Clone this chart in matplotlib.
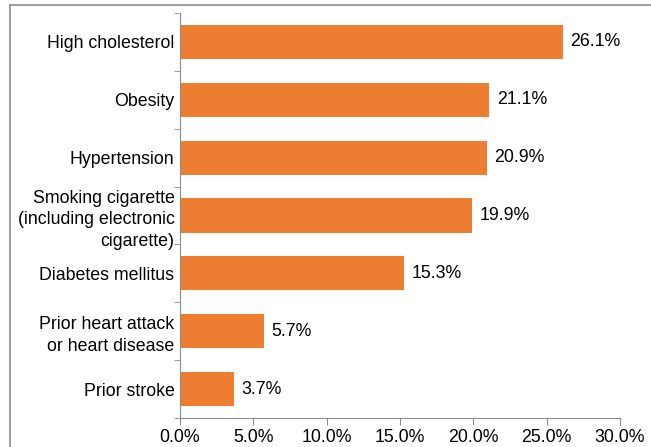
import matplotlib.pyplot as plt
from matplotlib.lines import Line2D
import numpy as np

# risk factors (top to bottom) and prevalence (%)
categories = ['High cholesterol', 'Obesity', 'Hypertension',
              'Smoking cigarette\n(including electronic\ncigarette)',
              'Diabetes mellitus', 'Prior heart attack\nor heart disease',
              'Prior stroke']
values = [26.1, 21.1, 20.9, 19.9, 15.3, 5.7, 3.7]
xticks = [0, 5, 10, 15, 20, 25, 30]

plt.rcParams['font.family'] = ['Liberation Sans', 'DejaVu Sans']
W, H = 651, 447
fs = 12.8
fig = plt.figure(figsize=(W / 100, H / 100), dpi=100)
ax = fig.add_axes([180 / W, 1 - 418 / H, 440 / W, 405 / H])

grey = '#8c8c8c'
pos = np.arange(len(categories))
ax.barh(pos, values, height=0.59, color='#ED7D31')
for y, v in zip(pos, values):
    ax.text(v + 0.5, y, '%.1f%%' % v, va='center', ha='left', fontsize=fs)

ax.set_ylim(len(categories) - 0.5, -0.5)
ax.set_xlim(0, 30)
ax.set_xticks(xticks)
ax.set_xticklabels(['%.1f%%' % t for t in xticks], fontsize=fs)
ax.set_yticks(pos)
ax.set_yticklabels(categories, fontsize=fs, ha='right', multialignment='right',
                   linespacing=1.38)
ax.set_yticks(np.arange(len(categories) + 1) - 0.5, minor=True)
ax.tick_params(axis='y', which='major', length=0, pad=4)
ax.tick_params(axis='y', which='minor', length=4, color=grey, direction='out')
ax.tick_params(axis='x', length=5, color=grey, direction='out', pad=3)

for s in ['top', 'right']:
    ax.spines[s].set_visible(False)
for s in ['left', 'bottom']:
    ax.spines[s].set_color(grey)

# outer frame (cropped on right/bottom)
fig.add_artist(Line2D([10 / W, 1], [1 - 5 / H, 1 - 5 / H], color=grey, lw=1.2))
fig.add_artist(Line2D([10 / W, 10 / W], [0, 1 - 5 / H], color=grey, lw=1.2))

fig.savefig('out.png', dpi=100)
